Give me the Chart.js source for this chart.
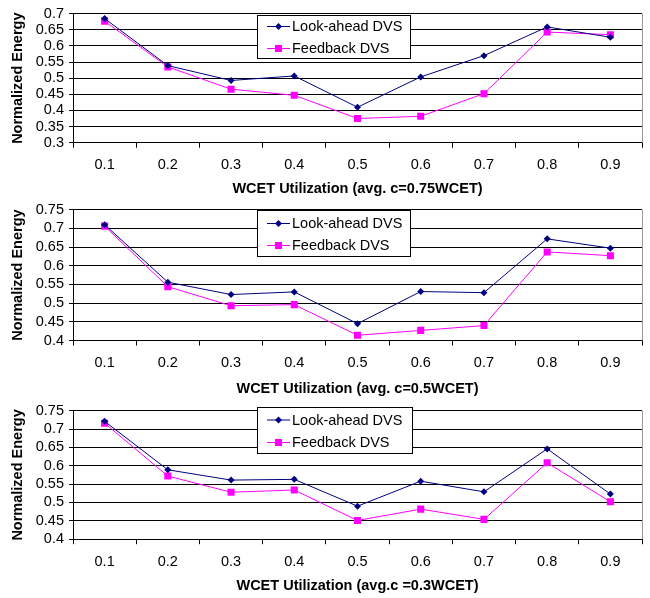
<!DOCTYPE html>
<html>
<head>
<meta charset="utf-8">
<script src="https://cdn.jsdelivr.net/npm/chart.js@4.4.1/dist/chart.umd.min.js"></script>
<style>
  body { margin: 0; background: #fff; }
  #wrap { width: 650px; height: 598px; position: relative; }
  #wrap canvas { position: absolute; left: 0; }
</style>
</head>
<body>
<div id="wrap">
  <canvas id="chart-c075" width="650" height="196" style="top:0px"></canvas>
  <canvas id="chart-c05" width="650" height="201" style="top:196px"></canvas>
  <canvas id="chart-c03" width="650" height="201" style="top:397px"></canvas>
</div>
<script>
// Data
const utilization = ['0.1', '0.2', '0.3', '0.4', '0.5', '0.6', '0.7', '0.8', '0.9'];

// avg. c = 0.75 WCET
const lookAheadC075 = [0.685, 0.539, 0.493, 0.507, 0.410, 0.504, 0.570, 0.659, 0.627];
const feedbackC075 = [0.677, 0.535, 0.466, 0.447, 0.375, 0.382, 0.452, 0.643, 0.635];

// avg. c = 0.5 WCET
const lookAheadC05 = [0.710, 0.556, 0.523, 0.530, 0.445, 0.531, 0.528, 0.672, 0.647];
const feedbackC05 = [0.706, 0.544, 0.493, 0.496, 0.414, 0.427, 0.440, 0.637, 0.627];

// avg. c = 0.3 WCET
const lookAheadC03 = [0.721, 0.589, 0.561, 0.563, 0.490, 0.558, 0.529, 0.646, 0.523];
const feedbackC03 = [0.716, 0.572, 0.528, 0.534, 0.451, 0.482, 0.454, 0.608, 0.502];

const yRangeC075 = [0.3, 0.7];
const yRangeC05 = [0.4, 0.75];
const yRangeC03 = [0.4, 0.75];

const seriesNames = ['Look-ahead DVS', 'Feedback DVS'];
const xTitles = [
    'WCET Utilization (avg. c=0.75WCET)',
    'WCET Utilization (avg. c=0.5WCET)',
    'WCET Utilization (avg.c =0.3WCET)'
];

const FONT = '"Liberation Sans", Arial, sans-serif';
const NAVY = '#000080';
const MAGENTA = '#ff00ff';

const drawMarker = function (ctx, style, x, y, r, color) {
    ctx.fillStyle = color;
    ctx.beginPath();
    if (style === 'rectRot') {
        ctx.moveTo(x, y - r);
        ctx.lineTo(x + r, y);
        ctx.lineTo(x, y + r);
        ctx.lineTo(x - r, y);
    } else {
        const s = r * Math.SQRT1_2;
        ctx.rect(x - s, y - s, 2 * s, 2 * s);
    }
    ctx.closePath();
    ctx.fill();
};

// boxed legend inside the plot + thin right border
const boxLegend = {
    id: 'boxLegend',
    afterDraw(chart, args, opts) {
        const ctx = chart.ctx;
        const area = chart.chartArea;
        ctx.save();
        ctx.strokeStyle = '#9a9a9a';
        ctx.lineWidth = 1;
        ctx.beginPath();
        ctx.moveTo(Math.round(area.right) + 0.5, area.top);
        ctx.lineTo(Math.round(area.right) + 0.5, area.bottom);
        ctx.stroke();

        const x = opts.left, y = opts.top, w = opts.width, h = opts.height;
        ctx.fillStyle = '#fff';
        ctx.fillRect(x, y, w, h);
        ctx.strokeStyle = '#000';
        ctx.strokeRect(x + 0.5, y + 0.5, w, h);

        chart.data.datasets.forEach(function (ds, i) {
            const rowY = y + opts.rows[i];
            ctx.strokeStyle = ds.borderColor;
            ctx.lineWidth = 1;
            ctx.beginPath();
            ctx.moveTo(x + 10, rowY + 0.5);
            ctx.lineTo(x + 33, rowY + 0.5);
            ctx.stroke();
            drawMarker(ctx, ds.pointStyle, x + 21.5, rowY + 0.5, ds.pointRadius, ds.pointBackgroundColor);
            ctx.fillStyle = '#000';
            ctx.font = '14.5px ' + FONT;
            ctx.textBaseline = 'middle';
            ctx.fillText(ds.label, x + 35, rowY + 1);
        });
        ctx.restore();
    }
};

const buildChart = function (id, lookAhead, feedback, yRange, xTitle, layout) {
    const datasets = [
        {
            label: seriesNames[0],
            data: lookAhead,
            borderColor: NAVY,
            backgroundColor: NAVY,
            pointBackgroundColor: NAVY,
            pointBorderColor: NAVY,
            pointStyle: 'rectRot',
            pointRadius: 3.5,
            pointBorderWidth: 0,
            borderWidth: 1,
            tension: 0
        },
        {
            label: seriesNames[1],
            data: feedback,
            borderColor: MAGENTA,
            backgroundColor: MAGENTA,
            pointBackgroundColor: MAGENTA,
            pointBorderColor: MAGENTA,
            pointStyle: 'rect',
            pointRadius: 5,
            pointBorderWidth: 0,
            borderWidth: 1,
            tension: 0
        }
    ];

    return new Chart(document.getElementById(id), {
        type: 'line',
        data: { labels: utilization, datasets: datasets },
        options: {
            responsive: false,
            animation: false,
            layout: { padding: { left: 0, right: 8, top: layout.top, bottom: 0 } },
            plugins: {
                legend: { display: false },
                tooltip: { enabled: false },
                boxLegend: layout.legend
            },
            scales: {
                x: {
                    offset: true,
                    grid: { offset: true, drawOnChartArea: false, tickLength: 5, color: '#000' },
                    border: { color: '#000' },
                    ticks: { color: '#000', font: { family: FONT, size: 14.5 }, padding: 9, maxRotation: 0 },
                    title: {
                        display: true,
                        text: xTitle,
                        color: '#000',
                        font: { family: FONT, size: 14.5, weight: 'bold' },
                        padding: { top: 0, bottom: layout.titlePad }
                    },
                    afterFit: function (scale) { scale.height = layout.xHeight; }
                },
                y: {
                    min: yRange[0],
                    max: yRange[1],
                    grid: { color: '#000', tickLength: 4 },
                    border: { color: '#000' },
                    ticks: {
                        stepSize: 0.05,
                        autoSkip: false,
                        color: '#000',
                        font: { family: FONT, size: 14.5 },
                        padding: 5,
                        callback: function (v) { return String(+v.toFixed(2)); }
                    },
                    title: {
                        display: true,
                        text: 'Normalized Energy',
                        color: '#000',
                        font: { family: FONT, size: 14.5, weight: 'bold' },
                        padding: { top: 9, bottom: 0 }
                    },
                    afterFit: function (scale) { scale.width = 73; }
                }
            }
        },
        plugins: [boxLegend]
    });
};

buildChart('chart-c075', lookAheadC075, feedbackC075, yRangeC075, xTitles[0], {
    top: 6, xHeight: 53.3, titlePad: -1.5,
    legend: { left: 257, top: 15, width: 153, height: 43, rows: [11, 33] }
});
buildChart('chart-c05', lookAheadC05, feedbackC05, yRangeC05, xTitles[1], {
    top: 8.3, xHeight: 56.5, titlePad: -1,
    legend: { left: 257, top: 14, width: 153, height: 46, rows: [13, 35] }
});
buildChart('chart-c03', lookAheadC03, feedbackC03, yRangeC03, xTitles[2], {
    top: 5.3, xHeight: 58.8, titlePad: 3.5,
    legend: { left: 257, top: 10, width: 155, height: 46, rows: [12.5, 35] }
});
</script>
</body>
</html>
